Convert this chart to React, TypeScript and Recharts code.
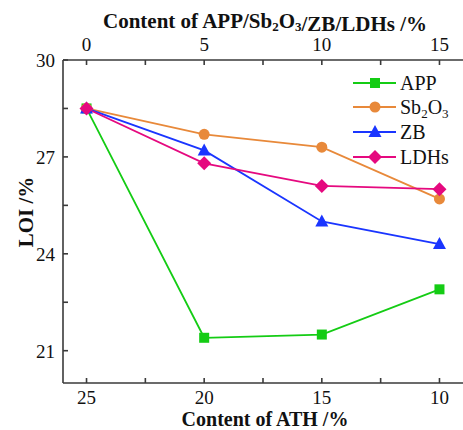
import { LineChart, Line, XAxis, YAxis } from "recharts";

// flame retardant loading (APP/Sb2O3/ZB/LDHs), ATH makes up the rest of 25 %
const additive = [0, 5, 10, 15];
const athTotal = 25;
const app = [28.5, 21.4, 21.5, 22.9];
const sb2o3 = [28.5, 27.7, 27.3, 25.7];
const zb = [28.5, 27.2, 25.0, 24.3];
const ldhs = [28.5, 26.8, 26.1, 26.0];

const xTicks = [0, 2.5, 5, 7.5, 10, 12.5, 15];
const yTicks = [21, 22.5, 24, 25.5, 27, 28.5, 30];

const FONT = '"Liberation Serif", "Times New Roman", serif';
const AXIS = "#3a3a3a";

type Shape = "square" | "circle" | "triangle" | "diamond";

const series: { key: string; color: string; shape: Shape }[] = [
  { key: "APP", color: "#14cc14", shape: "square" },
  { key: "Sb2O3", color: "#e8893a", shape: "circle" },
  { key: "ZB", color: "#1a35ff", shape: "triangle" },
  { key: "LDHs", color: "#e5097f", shape: "diamond" },
];

const data = additive.map((a, i) => ({
  a,
  APP: app[i],
  Sb2O3: sb2o3[i],
  ZB: zb[i],
  LDHs: ldhs[i],
}));

function Marker({ cx, cy, shape, color }: { cx: number; cy: number; shape: Shape; color: string }) {
  switch (shape) {
    case "square":
      return <rect x={cx - 5} y={cy - 5} width={10} height={10} fill={color} />;
    case "circle":
      return <circle cx={cx} cy={cy} r={5.5} fill={color} />;
    case "triangle":
      return <path d={`M${cx},${cy - 7}L${cx + 6.5},${cy + 5}L${cx - 6.5},${cy + 5}Z`} fill={color} />;
    default:
      return <path d={`M${cx},${cy - 7}L${cx + 7},${cy}L${cx},${cy + 7}L${cx - 7},${cy}Z`} fill={color} />;
  }
}

// chemical names with subscript digits
function Formula({ name, sub = 13, shift = 4 }: { name: string; sub?: number; shift?: number }) {
  const parts = name.split(/(\d)/).filter(Boolean);
  let low = false;
  return (
    <>
      {parts.map((p, i) => {
        const digit = /\d/.test(p);
        const dy = digit && !low ? shift : !digit && low ? -shift : 0;
        low = digit;
        return (
          <tspan key={i} dy={dy} fontSize={digit ? sub : undefined}>
            {p}
          </tspan>
        );
      })}
    </>
  );
}

const tickText = { fontFamily: FONT, fontSize: 19, fill: "#111" };

function TopTick({ x, y, payload }: any) {
  if (payload.value % 5) return null;
  return (
    <text x={x} y={y} textAnchor="middle" {...tickText}>
      {payload.value}
    </text>
  );
}

function BottomTick({ x, y, payload }: any) {
  if (payload.value % 5) return null;
  return (
    <text x={x} y={y} textAnchor="middle" {...tickText}>
      {athTotal - payload.value}
    </text>
  );
}

function LeftTick({ x, y, payload }: any) {
  if (payload.value % 3) return null;
  return (
    <text x={x} y={y} dy={7} textAnchor="end" {...tickText}>
      {payload.value}
    </text>
  );
}

const titleText = { fontFamily: FONT, fontSize: 21, fontWeight: 700, fill: "#111" };

function LegendBox() {
  const rows = [13, 37, 62, 87];
  return (
    <svg width={113} height={100} style={{ position: "absolute", left: 350, top: 70 }}>
      {series.map((s, i) => (
        <g key={s.key}>
          <line x1={3} x2={46} y1={rows[i]} y2={rows[i]} stroke={s.color} strokeWidth={1.8} />
          <Marker cx={25} cy={rows[i]} shape={s.shape} color={s.color} />
          <text x={50} y={rows[i] + 7} fontFamily={FONT} fontSize={20} fill="#111">
            <Formula name={s.key} sub={13} shift={4} />
          </text>
        </g>
      ))}
    </svg>
  );
}

export default function App() {
  return (
    <div style={{ position: "absolute", left: 0, top: 0, width: 463, height: 430, background: "#fff" }}>
      <LineChart width={463} height={430} data={data} margin={{ top: 30, right: 0, bottom: 17, left: 3 }}>
        <XAxis
          xAxisId="top"
          orientation="top"
          dataKey="a"
          type="number"
          domain={[-1, 16]}
          ticks={xTicks}
          height={30}
          tickSize={-5}
          tickMargin={14}
          tick={TopTick}
          stroke={AXIS}
          strokeWidth={1.6}
          label={{
            content: () => (
              <text x={265} y={28} textAnchor="middle" {...titleText}>
                Content of APP/<Formula name="Sb2O3" sub={13} shift={3} />
                <tspan>/ZB/LDHs /%</tspan>
              </text>
            ),
          }}
        />
        <XAxis
          xAxisId="bottom"
          orientation="bottom"
          dataKey="a"
          type="number"
          domain={[-1, 16]}
          ticks={xTicks}
          height={30}
          tickSize={-5}
          tickMargin={26}
          tick={BottomTick}
          stroke={AXIS}
          strokeWidth={1.6}
          label={{
            content: () => (
              <text x={265} y={426} textAnchor="middle" {...titleText} fontSize={20}>
                Content of ATH /%
              </text>
            ),
          }}
        />
        <YAxis
          type="number"
          domain={[20, 30]}
          ticks={yTicks}
          width={60}
          tickSize={-5}
          tickMargin={13}
          tick={LeftTick}
          stroke={AXIS}
          strokeWidth={1.6}
          label={{
            content: () => (
              <text x={33} y={212} transform="rotate(-90 33 212)" textAnchor="middle" {...titleText}>
                LOI /%
              </text>
            ),
          }}
        />
        {series.map((s) => (
          <Line
            key={s.key}
            xAxisId="top"
            dataKey={s.key}
            stroke={s.color}
            strokeWidth={1.8}
            isAnimationActive={false}
            dot={(p: any) => <Marker key={p.index} cx={p.cx} cy={p.cy} shape={s.shape} color={s.color} />}
            activeDot={false}
          />
        ))}
      </LineChart>
      <LegendBox />
    </div>
  );
}
